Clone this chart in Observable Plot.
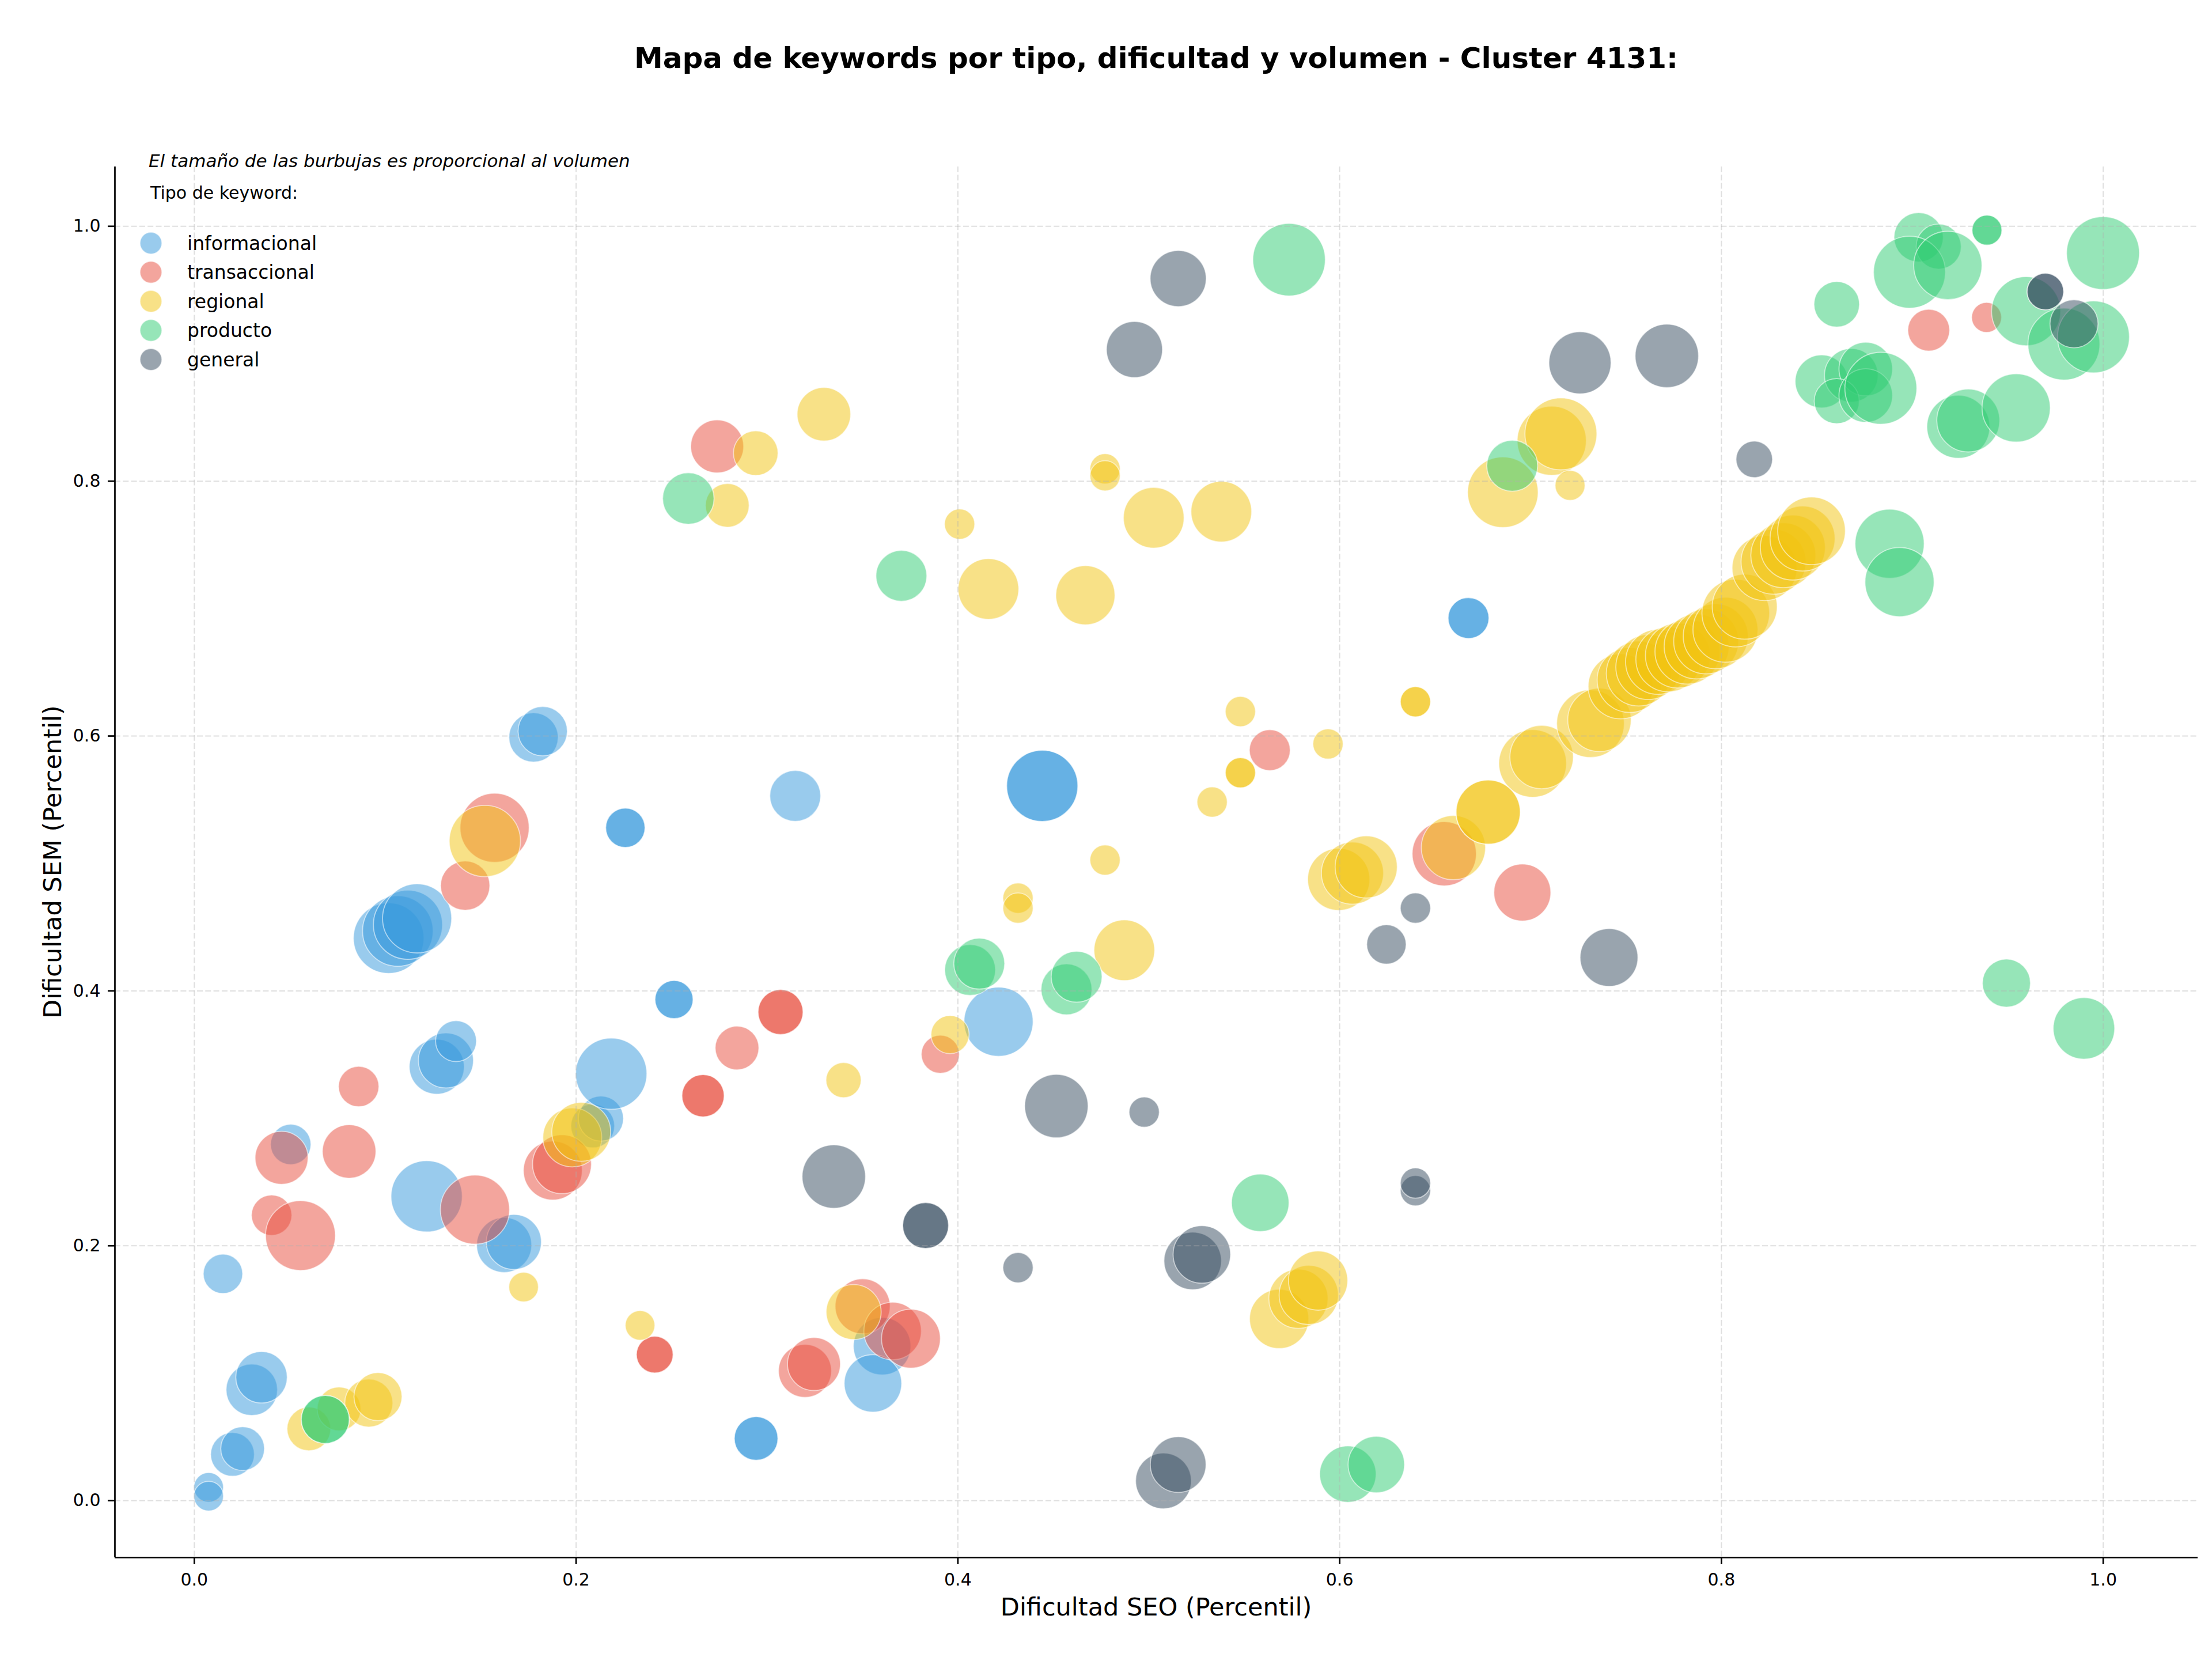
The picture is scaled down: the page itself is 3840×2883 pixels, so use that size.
<!DOCTYPE html>
<html>
<head>
<meta charset="utf-8">
<script src="https://cdn.jsdelivr.net/npm/d3@7"></script>
<script src="https://cdn.jsdelivr.net/npm/@observablehq/plot@0.6"></script>
<style>
  html, body { margin: 0; padding: 0; background: #fff; }
  #page { position: relative; width: 3840px; height: 2883px; font-family: "DejaVu Sans", sans-serif; }
  #title { position: relative; width: 3840px; height: 200px; }
  #title h1 {
    position: absolute; left: 199px; width: 3616px; top: 76px; margin: 0;
    text-align: center; font: bold 50px "DejaVu Sans", sans-serif; line-height: 1; color: #000;
  }
</style>
</head>
<body>
<div id="page">
  <div id="title"><h1>Mapa de keywords por tipo, dificultad y volumen - Cluster 4131:</h1></div>
  <div id="chart"></div>
</div>
<script>
// Keyword types and their colours
const tipos = ["informacional", "transaccional", "regional", "producto", "general"];
const colores = ["#3498db", "#e74c3c", "#f1c40f", "#2ecc71", "#34495e"];

// Each row: [dificultad SEO (percentil), dificultad SEM (percentil), volumen]
const informacional = [
  [0.0075, 0.0104, 440], [0.0075, 0.0035, 440], [0.0200, 0.0363, 960], [0.0253, 0.0408, 960],
  [0.0301, 0.0870, 1330], [0.0352, 0.0968, 1330], [0.0150, 0.1780, 780], [0.0505, 0.2795, 820],
  [0.1217, 0.2388, 2550], [0.1623, 0.2006, 1520], [0.1674, 0.2030, 1520], [0.2087, 0.2940, 960],
  [0.2130, 0.2998, 1020], [0.2184, 0.3350, 2550], [0.2943, 0.0488, 960], [0.2943, 0.0488, 960],
  [0.1777, 0.5989, 1220], [0.1825, 0.6038, 1220], [0.1018, 0.4414, 2500], [0.1066, 0.4470, 2500],
  [0.1119, 0.4519, 2400], [0.1167, 0.4569, 2400], [0.2258, 0.5280, 780], [0.2258, 0.5280, 780],
  [0.3148, 0.5530, 1300], [0.2513, 0.3932, 730], [0.2513, 0.3932, 730], [0.1270, 0.3405, 1520],
  [0.1318, 0.3454, 1520], [0.1371, 0.3606, 840], [0.6675, 0.6926, 840], [0.6675, 0.6926, 840],
  [0.4442, 0.5609, 2550], [0.4442, 0.5609, 2550], [0.4213, 0.3758, 2400], [0.3603, 0.1212, 1660],
  [0.3555, 0.0920, 1660]
];
const transaccional = [
  [0.0405, 0.2240, 820], [0.0556, 0.2080, 2450], [0.0457, 0.2690, 1410], [0.0811, 0.2740, 1440],
  [0.0861, 0.3250, 820], [0.1470, 0.2284, 2400], [0.1878, 0.2590, 1740], [0.1926, 0.2640, 1740],
  [0.2412, 0.1146, 680], [0.2412, 0.1146, 680], [0.2665, 0.3177, 900], [0.2665, 0.3177, 900],
  [0.3199, 0.1018, 1410], [0.3246, 0.1072, 1410], [0.1573, 0.5280, 2400], [0.1419, 0.4826, 1220],
  [0.3071, 0.3834, 1020], [0.3071, 0.3834, 1020], [0.2843, 0.3552, 960], [0.2739, 0.8273, 1410],
  [0.9086, 0.9185, 880], [0.9389, 0.9285, 450], [0.5634, 0.5889, 840], [0.3908, 0.3503, 730],
  [0.6548, 0.5076, 2070], [0.6957, 0.4772, 1630], [0.3501, 0.1525, 1520], [0.3658, 0.1331, 1660],
  [0.3754, 0.1271, 1740]
];
const regional = [
  [0.0600, 0.0563, 960], [0.0758, 0.0720, 960], [0.0914, 0.0766, 1160], [0.0962, 0.0816, 1160],
  [0.1725, 0.1676, 440], [0.1980, 0.2850, 1740], [0.2027, 0.2894, 1740], [0.2335, 0.1375, 440],
  [0.1522, 0.5176, 2550], [0.3298, 0.8525, 1440], [0.4771, 0.8097, 460], [0.4771, 0.8042, 460],
  [0.5026, 0.7713, 1850], [0.5380, 0.7761, 1850], [0.4009, 0.7663, 460], [0.4160, 0.7154, 1850],
  [0.4668, 0.7105, 1760], [0.6855, 0.7913, 2500], [0.2941, 0.8220, 1000], [0.2792, 0.7810, 960],
  [0.7111, 0.8317, 2400], [0.7159, 0.8371, 2600], [0.7207, 0.7967, 450],
  [0.7011, 0.5785, 2300], [0.7058, 0.5835, 2020], [0.7314, 0.6097, 2300], [0.7361, 0.6127, 2020],
  [0.7472, 0.6390, 2120], [0.7519, 0.6440, 2120], [0.7567, 0.6491, 2120], [0.7617, 0.6541, 2120],
  [0.7668, 0.6582, 2120], [0.7722, 0.6602, 2120], [0.7772, 0.6632, 2120], [0.7822, 0.6662, 2120],
  [0.7870, 0.6703, 2120], [0.7920, 0.6743, 2120], [0.7970, 0.6783, 2120], [0.8021, 0.6834, 2120],
  [0.8075, 0.6965, 2300], [0.8122, 0.7015, 2120], [0.8226, 0.7318, 2120], [0.8273, 0.7368, 2120],
  [0.8324, 0.7419, 2120], [0.8374, 0.7479, 2120], [0.8425, 0.7550, 2120], [0.8472, 0.7610, 2300],
  [0.5480, 0.6192, 460], [0.5480, 0.5712, 460], [0.5480, 0.5712, 460], [0.5332, 0.5482, 460],
  [0.5939, 0.5938, 460], [0.6397, 0.6269, 460], [0.6397, 0.6269, 460], [0.4771, 0.5027, 460],
  [0.4315, 0.4728, 460], [0.4315, 0.4650, 460], [0.4872, 0.4319, 1850], [0.3959, 0.3657, 730],
  [0.3401, 0.3300, 620], [0.5995, 0.4875, 1940], [0.6067, 0.4924, 1940], [0.6139, 0.4973, 1940],
  [0.6596, 0.5124, 2070], [0.6778, 0.5403, 2070], [0.6778, 0.5403, 2070], [0.5683, 0.1426, 1760],
  [0.5784, 0.1584, 1760], [0.5838, 0.1614, 1760], [0.5887, 0.1727, 1760], [0.3454, 0.1480, 1520]
];
const producto = [
  [0.0686, 0.0637, 1160], [0.0686, 0.0637, 1160], [0.2588, 0.7864, 1330], [0.3704, 0.7257, 1300],
  [0.5735, 0.9738, 2640], [0.6904, 0.8121, 1300], [0.9033, 0.9914, 1220], [0.9138, 0.9841, 1020],
  [0.8985, 0.9640, 2600], [0.9186, 0.9693, 2340], [0.9391, 0.9970, 450], [0.9391, 0.9970, 450],
  [0.9999, 0.9790, 2670], [0.8604, 0.9388, 1040], [0.9596, 0.9334, 2400], [0.9794, 0.9076, 2600],
  [0.9949, 0.9132, 2600], [0.8525, 0.8783, 1410], [0.8680, 0.8831, 1440], [0.8756, 0.8880, 1440],
  [0.8604, 0.8628, 1020], [0.8756, 0.8672, 1440], [0.8835, 0.8729, 2600], [0.9241, 0.8427, 1990],
  [0.9293, 0.8476, 1990], [0.9544, 0.8575, 2340], [0.8881, 0.7509, 2400], [0.8933, 0.7208, 2400],
  [0.4064, 0.4164, 1300], [0.4112, 0.4214, 1300], [0.4569, 0.4012, 1300], [0.4622, 0.4111, 1300],
  [0.9493, 0.4061, 1160], [0.9899, 0.3706, 1900], [0.5584, 0.2337, 1660], [0.6043, 0.0208, 1600],
  [0.6192, 0.0283, 1600]
];
const general = [
  [0.5154, 0.9590, 1580], [0.4925, 0.9033, 1580], [0.9697, 0.9488, 670], [0.9697, 0.9488, 670],
  [0.9847, 0.9235, 1160], [0.7259, 0.8929, 1940], [0.7714, 0.8983, 2020], [0.8172, 0.8171, 670],
  [0.6397, 0.4650, 460], [0.6245, 0.4365, 780], [0.7411, 0.4262, 1680], [0.4516, 0.3096, 2020],
  [0.4976, 0.3049, 460], [0.3350, 0.2543, 2020], [0.3831, 0.2159, 1060], [0.3831, 0.2159, 1060],
  [0.4315, 0.1828, 460], [0.5230, 0.1881, 1660], [0.5278, 0.1932, 1660], [0.6397, 0.2432, 460],
  [0.6397, 0.2492, 460], [0.5077, 0.0155, 1560], [0.5154, 0.0283, 1560]
];

// Axis ticks and extents
const ticks = [0, 0.2, 0.4, 0.6, 0.8, 1.0];
const xDom = [-0.0416, 1.0496];
const yDom = [-0.0447, 1.0467];

// Long table, drawn one type after another
const series = [informacional, transaccional, regional, producto, general];
const rows = series.flatMap((arr, i) =>
  arr.map(([seo, sem, vol]) => ({tipo: tipos[i], seo, sem, vol}))
);

const fmt = d3.format(".1f");
const gridStyle = {stroke: "#b0b0b0", strokeOpacity: 0.4, strokeWidth: 2, strokeDasharray: "10,4.3"};

const TOP = 200; // height of the title block above the SVG

const chart = Plot.plot({
  width: 3840,
  height: 2683,
  marginTop: 89,
  marginBottom: 180,
  marginLeft: 199,
  marginRight: 25,
  style: {fontFamily: "DejaVu Sans, sans-serif", background: "white", color: "black"},
  x: {domain: xDom},
  y: {domain: yDom},
  r: {domain: [0, 2500], range: [0, 61.2]},
  color: {domain: tipos, range: colores},
  marks: [
    Plot.dot(rows, {
      x: "seo", y: "sem", r: "vol", fill: "tipo",
      fillOpacity: 0.5, stroke: "white", strokeOpacity: 0.55, strokeWidth: 1.8,
      sort: null
    }),
    Plot.gridX(ticks, gridStyle),
    Plot.gridY(ticks, gridStyle),
    Plot.ruleX([xDom[0]], {stroke: "black", strokeWidth: 2.7}),
    Plot.ruleY([yDom[0]], {stroke: "black", strokeWidth: 2.7}),
    Plot.axisX(ticks, {tickSize: 12, tickPadding: 15, fontSize: 30, tickFormat: fmt, label: null, strokeWidth: 2.7}),
    Plot.axisY(ticks, {tickSize: 12, tickPadding: 13, fontSize: 30, tickFormat: fmt, label: null, strokeWidth: 2.7})
  ]
});

document.getElementById("chart").appendChild(chart);

// Axis titles, note and legend
const svg = d3.select(chart);
const font = "DejaVu Sans, sans-serif";

svg.append("text")
  .attr("x", (199 + 3815) / 2).attr("y", 2804 - TOP)
  .attr("text-anchor", "middle").attr("font-size", 43).attr("font-family", font)
  .attr("fill", "black")
  .text("Dificultad SEO (Percentil)");

svg.append("text")
  .attr("transform", `translate(106,${1496 - TOP}) rotate(-90)`)
  .attr("text-anchor", "middle").attr("font-size", 43).attr("font-family", font)
  .attr("fill", "black")
  .text("Dificultad SEM (Percentil)");

svg.append("text")
  .attr("x", 258).attr("y", 290 - TOP)
  .attr("text-anchor", "start")
  .attr("font-size", 31).attr("font-style", "italic").attr("font-family", font)
  .attr("fill", "black")
  .text("El tamaño de las burbujas es proporcional al volumen");

svg.append("text")
  .attr("x", 261).attr("y", 345 - TOP)
  .attr("text-anchor", "start")
  .attr("font-size", 30).attr("font-family", font)
  .attr("fill", "black")
  .text("Tipo de keyword:");

const legend = svg.append("g").attr("text-anchor", "start");
tipos.forEach((t, i) => {
  const cy = 422 - TOP + i * 50.5;
  legend.append("circle")
    .attr("cx", 262).attr("cy", cy).attr("r", 19)
    .attr("fill", colores[i]).attr("fill-opacity", 0.5)
    .attr("stroke", "white").attr("stroke-opacity", 0.55).attr("stroke-width", 1.8);
  legend.append("text")
    .attr("x", 325).attr("y", cy).attr("dy", "0.35em")
    .attr("text-anchor", "start")
    .attr("font-size", 33).attr("font-family", font)
    .attr("fill", "black")
    .text(t);
});
</script>
</body>
</html>
